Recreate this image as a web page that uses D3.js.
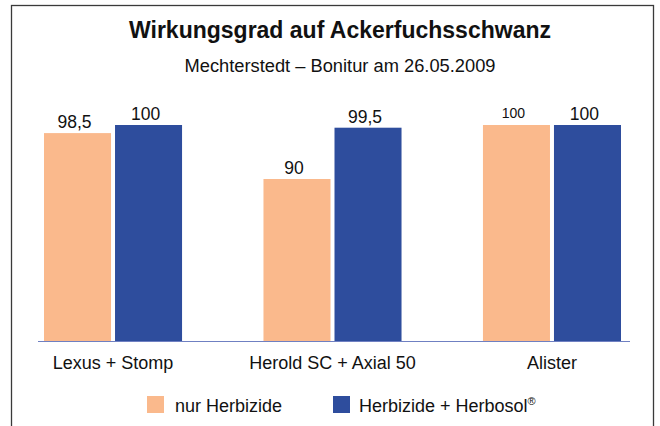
<!DOCTYPE html>
<html>
<head>
<meta charset="utf-8">
<script src="https://cdn.jsdelivr.net/npm/d3@7"></script>
<style>
  body { margin: 0; background: #fff; }
  svg text { font-family: "Liberation Sans", Arial, sans-serif; fill: #111; }
</style>
</head>
<body>
<svg id="chart"></svg>
<script>
const width = 660, height = 426;

// data
const categories = ["Lexus + Stomp", "Herold SC + Axial 50", "Alister"];
const seriesNames = ["nur Herbizide", "Herbizide + Herbosol"];
const nurHerbizide = [98.5, 90, 100];
const mitHerbosol = [100, 99.5, 100];
const colors = ["#FAB98C", "#2E4D9D"];

const svg = d3.select("#chart").attr("width", width).attr("height", height);

// outer frame (bottom edge runs off the picture)
svg.append("rect")
    .attr("x", 11.5).attr("y", 5.5)
    .attr("width", 642).attr("height", 440)
    .attr("fill", "none").attr("stroke", "#3a3a3a").attr("stroke-width", 1.3);

svg.append("text")
    .attr("x", 340).attr("y", 38)
    .attr("text-anchor", "middle")
    .attr("font-size", "23px").attr("font-weight", "bold")
    .text("Wirkungsgrad auf Ackerfuchsschwanz");

svg.append("text")
    .attr("x", 340).attr("y", 72)
    .attr("text-anchor", "middle")
    .attr("font-size", "18.3px")
    .text("Mechterstedt – Bonitur am 26.05.2009");

// scales
const x0 = d3.scaleBand().domain(categories).range([44, 621]).paddingInner(0.371).paddingOuter(0);
const x1 = d3.scaleBand().domain(d3.range(seriesNames.length)).range([0, x0.bandwidth()]).paddingInner(0.0563);
const y = d3.scaleLinear().domain([60, 100]).range([341, 125]);

const rows = categories.map((c, i) => ({ cat: c, vals: [nurHerbizide[i], mitHerbosol[i]] }));

const groups = svg.selectAll("g.grp")
    .data(rows)
    .join("g")
    .attr("class", "grp")
    .attr("transform", d => `translate(${x0(d.cat)},0)`);

groups.selectAll("rect")
    .data(d => d.vals.map((v, s) => ({ v, s, cat: d.cat })))
    .join("rect")
    .attr("x", d => x1(d.s))
    .attr("y", d => y(d.v))
    .attr("width", x1.bandwidth())
    .attr("height", d => y.range()[0] - y(d.v))
    .attr("fill", d => colors[d.s]);

// value labels, German decimal comma
const fmt = v => String(v).replace(".", ",");
groups.selectAll("text.val")
    .data(d => d.vals.map((v, s) => ({ v, s, cat: d.cat })))
    .join("text")
    .attr("class", "val")
    .attr("x", d => x1(d.s) + x1.bandwidth() / 2 - 3)
    .attr("y", d => y(d.v) - (d.cat === "Alister" && d.s === 0 ? 7 : 5))
    .attr("text-anchor", "middle")
    .attr("font-size", d => (d.cat === "Alister" && d.s === 0 ? "14px" : "17.5px"))
    .text(d => fmt(d.v));

// category axis
const axis = svg.append("g")
    .attr("transform", `translate(0,${y.range()[0]})`)
    .call(d3.axisBottom(x0).tickSize(0).tickPadding(15));
axis.select(".domain").remove();
axis.selectAll("text")
    .attr("font-size", "18px")
    .attr("fill", "#111")
    .style("font-family", "'Liberation Sans', Arial, sans-serif");

svg.append("line")
    .attr("x1", 38).attr("x2", 630)
    .attr("y1", y.range()[0] + 0.5).attr("y2", y.range()[0] + 0.5)
    .attr("stroke", "#6f80c2").attr("stroke-width", 1.2);

// legend
const legendX = [147, 333];
const legend = svg.selectAll("g.leg")
    .data(seriesNames)
    .join("g")
    .attr("class", "leg")
    .attr("transform", (d, i) => `translate(${legendX[i]},396)`);

legend.append("rect")
    .attr("width", 17).attr("height", 17)
    .attr("fill", (d, i) => colors[i]);

const lt = legend.append("text")
    .attr("x", (d, i) => i === 0 ? 28 : 26)
    .attr("y", 16)
    .attr("font-size", "18px")
    .text(d => d);
lt.filter((d, i) => i === 1)
    .append("tspan")
    .attr("font-size", "11px")
    .attr("dy", "-7")
    .text("®");
</script>
</body>
</html>
